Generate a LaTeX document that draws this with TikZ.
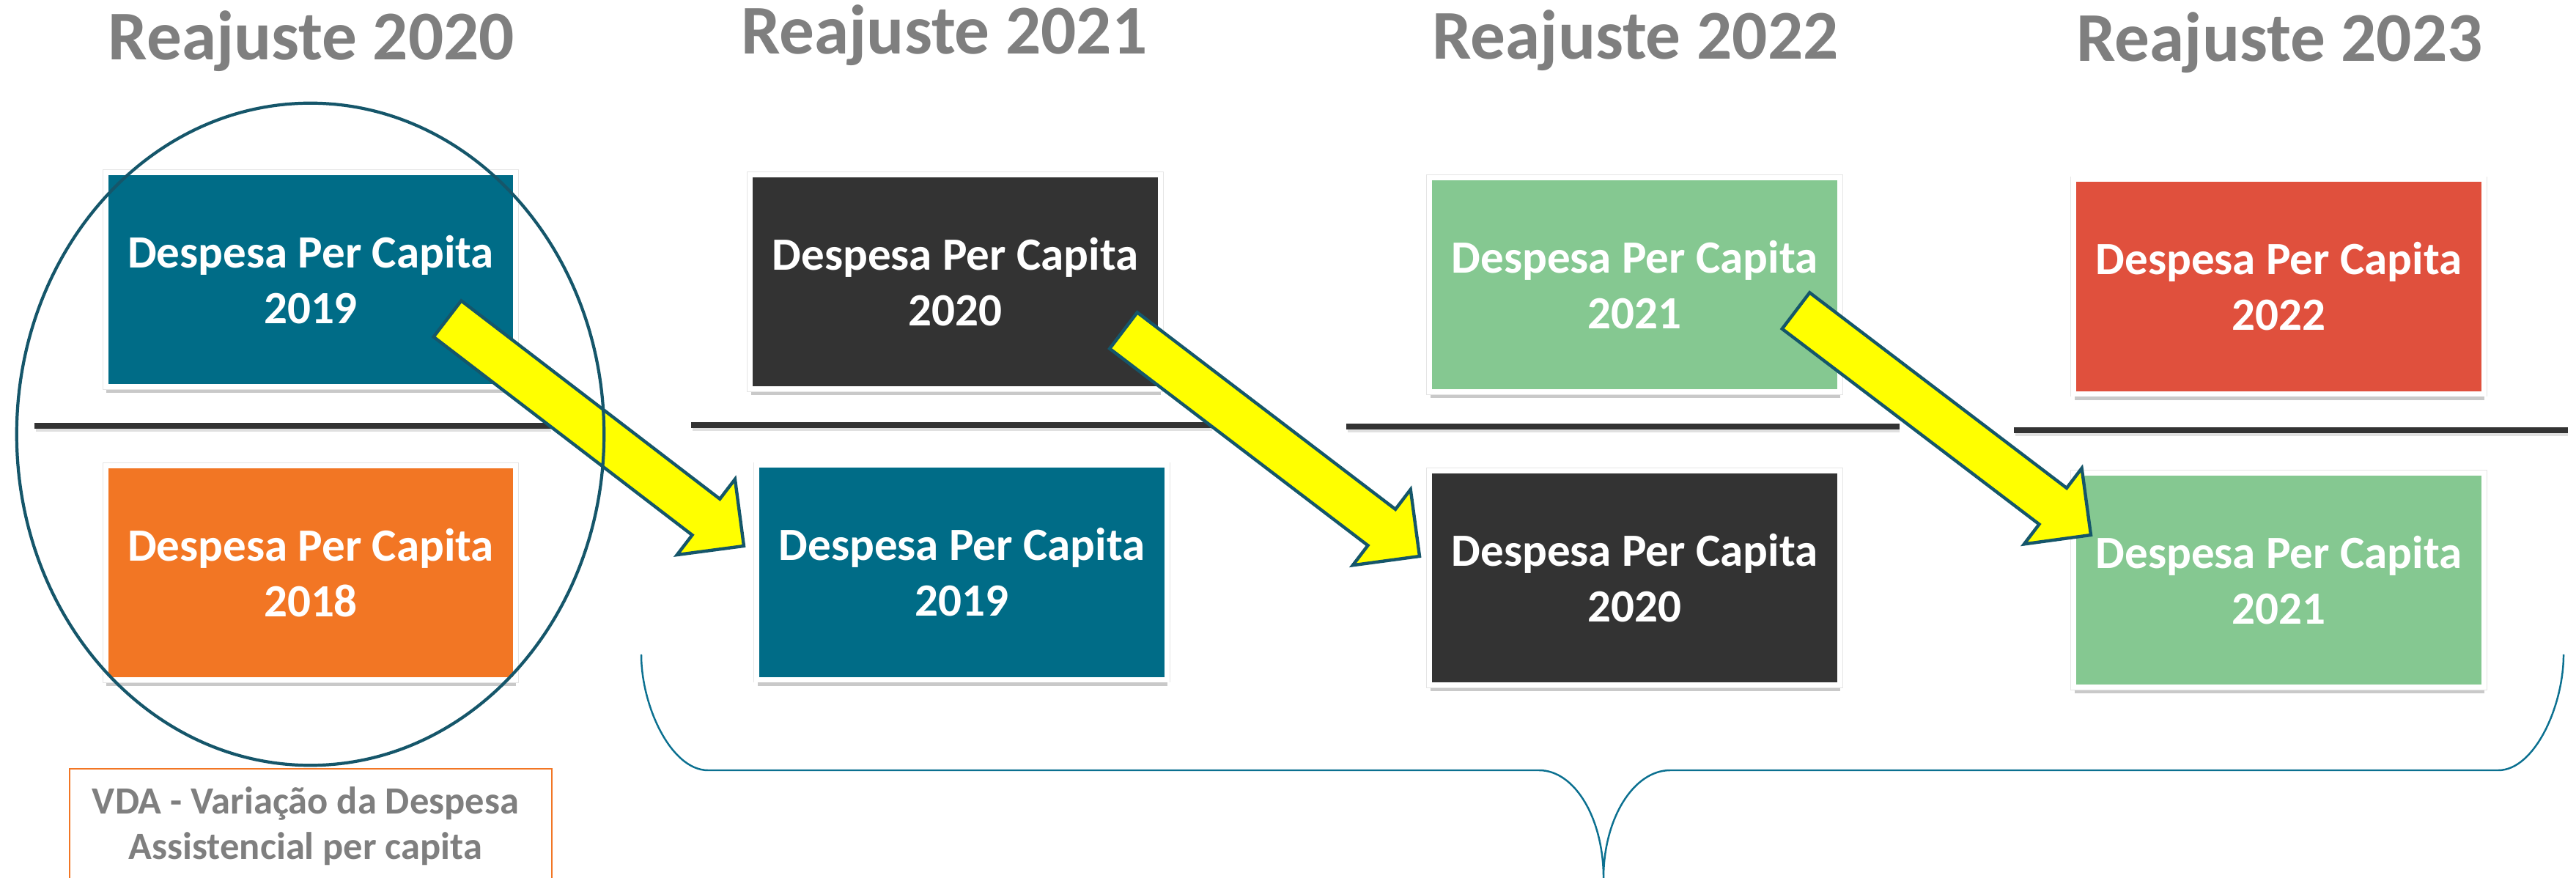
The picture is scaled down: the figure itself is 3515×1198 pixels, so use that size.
\documentclass[tikz,border=0pt]{standalone}
\usepackage{fontspec}
\setmainfont{Carlito}
\usetikzlibrary{calc,shadows}
\definecolor{cteal}{HTML}{006C87}
\definecolor{corange}{HTML}{F27624}
\definecolor{cdark}{HTML}{333333}
\definecolor{cgreen}{HTML}{85C891}
\definecolor{cred}{HTML}{E0503D}
\definecolor{cline}{HTML}{15566A}
\definecolor{cbrace}{HTML}{0B7090}
\definecolor{cgray}{HTML}{7F7F7F}
\definecolor{cyel}{HTML}{FFFF00}
\tikzset{
  box/.style={rectangle, minimum width=5.59cm, minimum height=2.92cm, inner sep=0pt,
    drop shadow={shadow xshift=0.2pt, shadow yshift=-2.5pt, opacity=0.3, fill=black!70},
    preaction={draw=black!10, line width=2.5pt},
    draw=white, line width=1.99pt, text=white, align=center,
    font=\fontsize{17.93}{21.62}\selectfont\bfseries},
  title/.style={anchor=base, text=cgray, inner sep=0pt, font=\fontsize{27.1}{32}\selectfont\bfseries},
  vdatext/.style={anchor=base, text=cgray, inner sep=0pt, font=\fontsize{14.94}{17.6}\selectfont\bfseries},
  sepline/.style={cdark, line width=2.3pt},
  sepshadow/.style={black, opacity=0.12, line width=2.3pt},
  yarrow/.style={fill=cyel, draw=cline, line width=1.25pt, line join=miter},
}
\newcommand\yblockarrow[2]{%
  \coordinate (#1hb) at ($(#2)!0.65cm!(#1)$);
  \draw[yarrow] ($(#1)!0.31cm!90:(#2)$) -- ($(#1hb)!0.31cm!90:(#2)$)
    -- ($(#1hb)!0.65cm!90:(#2)$) -- (#2) -- ($(#1hb)!0.65cm!-90:(#2)$)
    -- ($(#1hb)!0.31cm!-90:(#2)$) -- ($(#1)!0.31cm!-90:(#2)$) -- cycle;}
\begin{document}
\begin{tikzpicture}[x=0.01cm, y=-0.01cm]
\useasboundingbox (0,0) rectangle (3515,1198);
% titles
\node[title] (t1) at (425,82) {Reajuste 2020};
\node[title] (t2) at (1288.5,74) {Reajuste 2021};
\node[title] (t3) at (2231.5,81) {Reajuste 2022};
\node[title] (t4) at (3110.5,84) {Reajuste 2023};
% separator lines
\draw[sepshadow] (49,585) -- (752,585);
\draw[sepline] (47,581) -- (752,581);
\draw[sepshadow] (945,584) -- (1654,584);
\draw[sepline] (943,580) -- (1654,580);
\draw[sepshadow] (1839,586) -- (2592,586);
\draw[sepline] (1837,582) -- (2592,582);
\draw[sepshadow] (2750,591) -- (3504,591);
\draw[sepline] (2748,587) -- (3504,587);
% boxes
\node[box, fill=cteal]   (b1t) at (424,381.5)  {Despesa Per Capita\\2019};
\node[box, fill=corange] (b1b) at (424,781.5)  {Despesa Per Capita\\2018};
\node[box, fill=cdark]   (b2t) at (1303.5,384.5) {Despesa Per Capita\\2020};
\node[box, fill=cteal]   (b2b) at (1312.5,781) {Despesa Per Capita\\2019};
\node[box, fill=cgreen]  (b3t) at (2230.5,388.5) {Despesa Per Capita\\2021};
\node[box, fill=cdark]   (b3b) at (2230.5,788.5) {Despesa Per Capita\\2020};
\node[box, fill=cred]    (b4t) at (3109.5,391) {Despesa Per Capita\\2022};
\node[box, fill=cgreen]  (b4b) at (3109.5,791.5) {Despesa Per Capita\\2021};
% arrows
\coordinate (a1s) at (610.5,435);  \coordinate (a1e) at (1015,745);
\coordinate (a2s) at (1533,451);   \coordinate (a2e) at (1937,759);
\coordinate (a3s) at (2450.5,424); \coordinate (a3e) at (2853,730);
\yblockarrow{a1s}{a1e}
\yblockarrow{a2s}{a2e}
\yblockarrow{a3s}{a3e}
% ellipse highlight
\draw[cline, line width=1.2pt] (423.5,592.5) ellipse [x radius=4.005cm, y radius=4.515cm];
% brace
\draw[cbrace, line width=0.7pt] (875,893) .. controls (875,964) and (916,1051) .. (966,1051)
  -- (2100,1051) .. controls (2149,1051) and (2188,1117) .. (2188,1198)
  .. controls (2188,1117) and (2229,1051) .. (2279,1051)
  -- (3409,1051) .. controls (3458,1051) and (3498,964) .. (3498,893);
% VDA box
\draw[corange, line width=0.6pt] (95,1200) -- (95,1049) -- (753,1049) -- (753,1200);
\node[vdatext] (v1) at (417,1110) {VDA - Variação da Despesa};
\node[vdatext] (v2) at (417,1172) {Assistencial per capita};
\end{tikzpicture}
\end{document}
